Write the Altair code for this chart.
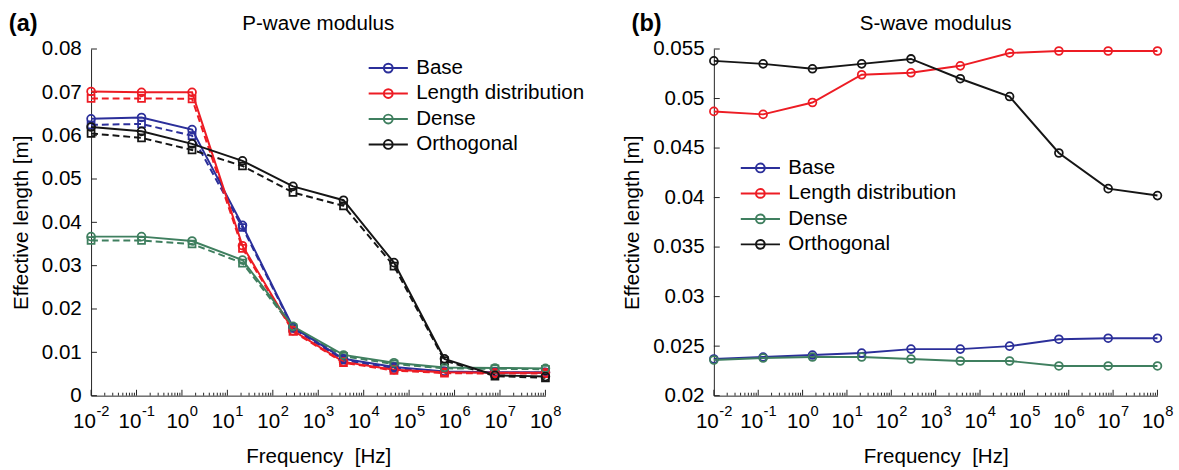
import altair as alt
import pandas as pd

# ---------------- data ----------------
freq = [0.01, 0.129, 1.67, 21.5, 278, 3594, 46416, 599484, 7742637, 1e8]
series = ["Base", "Length distribution", "Dense", "Orthogonal"]
colors = ["#2b2f9a", "#ed1c24", "#3f7f5f", "#151515"]

# P-wave modulus, solid lines (circles)
p_base = [0.0639, 0.0642, 0.0614, 0.0393, 0.0158, 0.0085, 0.0066, 0.0056, 0.0054, 0.0054]
p_len = [0.0702, 0.0700, 0.0700, 0.0346, 0.0150, 0.0078, 0.0060, 0.0054, 0.0053, 0.0053]
p_dense = [0.0367, 0.0367, 0.0357, 0.0313, 0.0160, 0.0094, 0.0076, 0.0065, 0.0064, 0.0063]
p_orth = [0.0620, 0.0610, 0.0581, 0.0542, 0.0483, 0.0451, 0.0307, 0.0085, 0.0047, 0.0044]
# P-wave modulus, dashed lines (squares)
p_base_d = [0.0625, 0.0627, 0.0600, 0.0388, 0.0155, 0.0082, 0.0063, 0.0055, 0.0053, 0.0053]
p_len_d = [0.0686, 0.0686, 0.0685, 0.0340, 0.0148, 0.0076, 0.0058, 0.0052, 0.0051, 0.0051]
p_dense_d = [0.0358, 0.0358, 0.0350, 0.0306, 0.0157, 0.0091, 0.0073, 0.0063, 0.0062, 0.0061]
p_orth_d = [0.0605, 0.0595, 0.0567, 0.0530, 0.0469, 0.0438, 0.0299, 0.0081, 0.0045, 0.0041]

# S-wave modulus (solid lines, circles)
s_base = [0.0237, 0.0239, 0.0241, 0.0243, 0.0247, 0.0247, 0.0250, 0.0257, 0.0258, 0.0258]
s_len = [0.0487, 0.0484, 0.0496, 0.0524, 0.0526, 0.0533, 0.0546, 0.0548, 0.0548, 0.0548]
s_dense = [0.0236, 0.0238, 0.0239, 0.0239, 0.0237, 0.0235, 0.0235, 0.0230, 0.0230, 0.0230]
s_orth = [0.0538, 0.0535, 0.0530, 0.0535, 0.0540, 0.0520, 0.0502, 0.0445, 0.0409, 0.0402]

# axis ticks / tick labels
x_major = [0.01, 0.1, 1, 10, 100, 1e3, 1e4, 1e5, 1e6, 1e7, 1e8]
x_exp = ["-2", "-1", "0", "1", "2", "3", "4", "5", "6", "7", "8"]
x_minor = [m * 10.0 ** k for k in range(-2, 8) for m in range(2, 10)]
y_ticks_p = [0, 0.01, 0.02, 0.03, 0.04, 0.05, 0.06, 0.07, 0.08]
y_ticks_s = [0.02, 0.025, 0.03, 0.035, 0.04, 0.045, 0.05, 0.055]

# ---------------- styling ----------------
FONT = "Liberation Sans"
AX = "#222222"
H = 354
FS = 21
SYM = "M-4,0L4,0M0.9,0A0.9,0.9 0 1,1 -0.9,0A0.9,0.9 0 1,1 0.9,0"


def frame(lists):
    rows = []
    for s, vals in zip(series, lists):
        for f, v in zip(freq, vals):
            rows.append({"freq": f, "value": v, "series": s})
    return pd.DataFrame(rows)


lab = pd.DataFrame({"freq": x_major, "exp": x_exp})
lab_neg = lab[lab["exp"].str.startswith("-")]
lab_pos = lab[~lab["exp"].str.startswith("-")]


def panel(solid, dashed, ydomain, yticks, width, title, tag, legx, legy):
    xscale = alt.Scale(type="log", domain=[0.01, 1e8], nice=False)
    yscale = alt.Scale(domain=ydomain, nice=False, zero=False)
    xaxis = alt.Axis(values=x_major, labels=False, ticks=False, grid=False,
                     title="Frequency\u00a0 [Hz]", titlePadding=51)
    yaxis = alt.Axis(values=yticks, format="~g", ticks=False, grid=False,
                     labelFlush=False, labelOverlap=False, labelPadding=10,
                     title="Effective length [m]", titlePadding=10)
    X = alt.X("freq:Q", scale=xscale, axis=xaxis)
    Y = alt.Y("value:Q", scale=yscale, axis=yaxis)
    legend = alt.Legend(title=None, orient="none", legendX=legx, legendY=legy,
                        symbolType=SYM, symbolSize=100, symbolStrokeWidth=2,
                        symbolFillColor="transparent", labelFontSize=FS, labelLimit=0,
                        labelOffset=18, rowPadding=4, padding=0, labelColor="#000")
    color = alt.Color("series:N", scale=alt.Scale(domain=series, range=colors), legend=legend)

    layers = []
    ytk = alt.Chart(pd.DataFrame({"value": yticks})).mark_rule(color=AX, strokeWidth=1).encode(
        y=Y, x=alt.value(0), x2=alt.value(6))
    xmj = alt.Chart(pd.DataFrame({"freq": x_major})).mark_rule(color=AX, strokeWidth=1).encode(
        x=X, y=alt.value(H), y2=alt.value(H - 6))
    xmn = alt.Chart(pd.DataFrame({"freq": x_minor})).mark_rule(color=AX, strokeWidth=1).encode(
        x=X, y=alt.value(H), y2=alt.value(H - 3))
    layers += [ytk, xmj, xmn]

    # x tick labels: "10" with a raised exponent, centred on the decade tick
    for df, j in ((lab_neg, 5), (lab_pos, 7.5)):
        layers.append(alt.Chart(df).mark_text(
            text="10", fontSize=FS, align="right", baseline="alphabetic", dx=j,
            color="#000").encode(x=X, y=alt.value(H + 33)))
        layers.append(alt.Chart(df).mark_text(
            fontSize=15, align="left", baseline="alphabetic", dx=j + 0.5,
            color="#000").encode(x=X, y=alt.value(H + 21), text="exp:N"))

    if dashed is not None:
        dd = frame(dashed)
        layers.append(alt.Chart(dd).mark_line(strokeWidth=2, strokeDash=[7, 4]).encode(
            x=X, y=Y, color=color, detail="series:N"))
        layers.append(alt.Chart(dd).mark_point(shape="square", filled=False, size=50,
                                               strokeWidth=1.8, opacity=1).encode(
            x=X, y=Y, color=color))
    sd = frame(solid)
    layers.append(alt.Chart(sd).mark_line(strokeWidth=2).encode(x=X, y=Y, color=color))
    layers.append(alt.Chart(sd).mark_point(shape="circle", filled=False, size=64,
                                           strokeWidth=1.8, opacity=1).encode(
        x=X, y=Y, color=color))
    layers.append(alt.Chart(pd.DataFrame({"t": [tag]})).mark_text(
        fontWeight="bold", fontSize=24, align="left", baseline="middle", color="#000").encode(
        text="t:N", x=alt.value(-84), y=alt.value(-25)))
    layers.append(alt.Chart(pd.DataFrame({"t": [title]})).mark_text(
        fontSize=FS, align="center", baseline="middle", color="#000").encode(
        text="t:N", x=alt.value(width / 2), y=alt.value(-25)))

    return alt.layer(*layers).properties(width=width, height=H)


left = panel([p_base, p_len, p_dense, p_orth], [p_base_d, p_len_d, p_dense_d, p_orth_d],
             [0, 0.08], y_ticks_p, 464, "P-wave modulus", "(a)", 293, 9)
right = panel([s_base, s_len, s_dense, s_orth], None,
              [0.02, 0.055], y_ticks_s, 453, "S-wave modulus", "(b)", 37, 111)

chart = alt.hconcat(left, right, spacing=38).resolve_scale(color="independent").properties(
    padding={"left": 9, "top": 8, "right": 5, "bottom": 5}
).configure(font=FONT).configure_view(stroke=None).configure_axis(
    labelFont=FONT, titleFont=FONT, labelFontSize=FS, titleFontSize=FS,
    labelColor="#000", titleColor="#000", titleFontWeight="normal",
    domainColor=AX, domainWidth=1)

chart.save("out.html", embed_options={"renderer": "svg", "actions": False})
